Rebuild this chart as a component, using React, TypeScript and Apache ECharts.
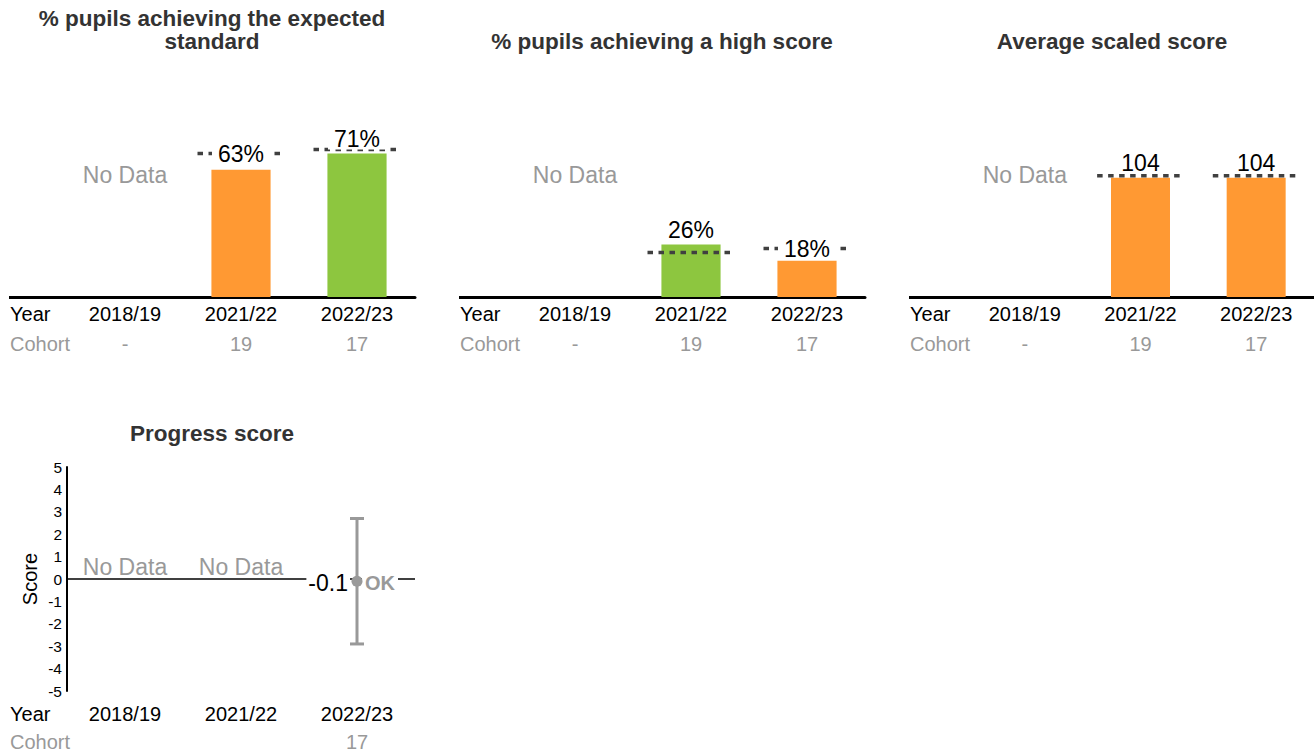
import React, { useEffect, useRef } from 'react';
import * as echarts from 'echarts';

// ---------- data ----------
const years = ['2018/19', '2021/22', '2022/23'];
const cohorts = ['-', '19', '17'];

const expectedTitle = ['% pupils achieving the expected', 'standard'];
const expectedSchool = [null, 63, 71];
const expectedNational = [null, 71, 73];
const expectedBand = ['', 'below', 'above'];

const highTitle = ['% pupils achieving a high score'];
const highSchool = [null, 26, 18];
const highNational = [null, 22, 24];
const highBand = ['', 'above', 'below'];

const scaledTitle = ['Average scaled score'];
const scaledSchool = [null, 103.6, 103.6];
const scaledNational = [null, 104, 104];
const scaledBand = ['', 'below', 'below'];

const progressTitle = 'Progress score';
const progressCohorts = ['', '', '17'];
const progressScore = [null, null, -0.1];
const progressLower = [null, null, -2.9];
const progressUpper = [null, null, 2.7];
const progressBand = ['', '', 'OK'];
const progressTicks = { min: -5, max: 5, interval: 1 };

// ---------- styles ----------
const FONT = '"Liberation Sans", Arial, Helvetica, sans-serif';
const bandColor: Record<string, string> = { above: '#8DC63F', below: '#FF9933' };
const GRAY = '#999999';

const panels = [
  { title: expectedTitle, school: expectedSchool, national: expectedNational, band: expectedBand, min: 0, max: 100, suffix: '%' },
  { title: highTitle, school: highSchool, national: highNational, band: highBand, min: 0, max: 100, suffix: '%' },
  { title: scaledTitle, school: scaledSchool, national: scaledNational, band: scaledBand, min: 80, max: 120, suffix: '' },
];

function buildOption() {
  const grid: any[] = [];
  const xAxis: any[] = [];
  const yAxis: any[] = [];
  const series: any[] = [];
  const graphic: any[] = [];

  panels.forEach((p, k) => {
    const ox = 450 * k;
    grid.push({ left: ox + 67, top: 95, width: 348, height: 202 });
    xAxis.push({
      type: 'category',
      gridIndex: k,
      data: years,
      axisLine: { show: true, onZero: false, lineStyle: { color: '#000', width: 3 } },
      axisTick: { show: false },
      axisLabel: {
        interval: 0,
        margin: 2,
        formatter: (v: string, i: number) => `{y|${v}}\n{c|${cohorts[i]}}`,
        rich: {
          y: { fontSize: 20, color: '#000', lineHeight: 30, fontFamily: FONT },
          c: { fontSize: 20, color: GRAY, lineHeight: 30, fontFamily: FONT },
        },
      },
    });
    yAxis.push({ type: 'value', gridIndex: k, min: p.min, max: p.max, show: false });

    // bars
    series.push({
      type: 'bar',
      xAxisIndex: k,
      yAxisIndex: k,
      barWidth: '51%',
      z: 2,
      data: p.school.map((v, i) =>
        v == null ? '-' : { value: v, itemStyle: { color: bandColor[p.band[i]] } }
      ),
    });

    // national comparison dashed line
    series.push({
      type: 'custom',
      xAxisIndex: k,
      yAxisIndex: k,
      z: 3,
      data: p.national.map((v, i) => [i, v]).filter((d) => d[1] != null),
      renderItem: (params: any, api: any) => {
        const c = api.coord([api.value(0), api.value(1)]);
        const half = api.size([1, 0])[0] * 0.375;
        return {
          type: 'line',
          shape: { x1: c[0] - half, y1: c[1], x2: c[0] + half, y2: c[1] },
          style: { stroke: '#404040', lineWidth: 3.5, lineDash: [5.5, 5.5] },
        };
      },
    });

    // value labels
    series.push({
      type: 'custom',
      xAxisIndex: k,
      yAxisIndex: k,
      z: 4,
      data: p.school.map((v, i) => [i, v, p.national[i]]).filter((d) => d[1] != null),
      renderItem: (params: any, api: any) => {
        const i = api.value(0);
        const s = api.value(1);
        const n = api.value(2);
        const cb = api.coord([i, s]);
        const cn = api.coord([i, n]);
        const cy = cn[1] < cb[1] - 8 ? cn[1] : cb[1] - 14.5;
        return {
          type: 'text',
          x: cb[0],
          y: cy,
          style: {
            text: `${Math.round(s)}${p.suffix}`,
            fontSize: 23,
            fontFamily: FONT,
            fill: '#000',
            align: 'center',
            verticalAlign: 'middle',
            lineHeight: 21,
            backgroundColor: '#fff',
            padding: [0, 6],
          },
        };
      },
    });

    // No Data
    series.push({
      type: 'custom',
      xAxisIndex: k,
      yAxisIndex: k,
      z: 4,
      data: p.school.map((v, i) => (v == null ? [i, p.min] : null)).filter((d) => d != null),
      renderItem: (params: any, api: any) => {
        const c = api.coord([api.value(0), api.value(1)]);
        return {
          type: 'text',
          x: c[0],
          y: params.coordSys.y + 80,
          style: {
            text: 'No Data',
            fontSize: 23,
            fontFamily: FONT,
            fill: GRAY,
            align: 'center',
            verticalAlign: 'middle',
          },
        };
      },
    });

    // titles (one text per line, bottom line aligned across panels)
    const lines = p.title;
    lines.forEach((line, li) => {
      graphic.push({
        type: 'text',
        x: ox + 212,
        y: 41 - (lines.length - 1 - li) * 23,
        style: {
          text: line,
          fontSize: 22.5,
          fontWeight: 'bold',
          fontFamily: FONT,
          fill: '#333',
          align: 'center',
          verticalAlign: 'middle',
          lineHeight: 22,
        },
      });
    });
    graphic.push({
      type: 'line',
      shape: { x1: ox + 9, y1: 297.5, x2: ox + 68, y2: 297.5 },
      style: { stroke: '#000', lineWidth: 3 },
    });
    graphic.push({
      type: 'text', x: ox + 10, y: 314,
      style: { text: 'Year', fontSize: 20, fontFamily: FONT, fill: '#000', align: 'left', verticalAlign: 'middle' },
    });
    graphic.push({
      type: 'text', x: ox + 10, y: 344,
      style: { text: 'Cohort', fontSize: 20, fontFamily: FONT, fill: GRAY, align: 'left', verticalAlign: 'middle' },
    });
  });

  // ---------- progress panel ----------
  const g = 3;
  grid.push({ left: 67, top: 467, width: 348, height: 224 });
  xAxis.push({
    type: 'category',
    gridIndex: g,
    data: years,
    axisLine: { show: false, onZero: false },
    axisTick: { show: false },
    axisLabel: {
      interval: 0,
      margin: 9,
      formatter: (v: string, i: number) => `{y|${v}}\n{c|${progressCohorts[i] || ' '}}`,
      rich: {
        y: { fontSize: 20, color: '#000', lineHeight: 28, fontFamily: FONT },
        c: { fontSize: 20, color: GRAY, lineHeight: 28, fontFamily: FONT },
      },
    },
  });
  yAxis.push({
    type: 'value',
    gridIndex: g,
    min: progressTicks.min,
    max: progressTicks.max,
    interval: progressTicks.interval,
    name: 'Score',
    nameLocation: 'middle',
    nameGap: 27,
    nameTextStyle: { fontSize: 20, color: '#000', fontFamily: FONT },
    axisLine: { show: true, onZero: false, lineStyle: { color: '#000', width: 2 } },
    axisTick: { show: false },
    splitLine: { show: false },
    axisLabel: { fontSize: 15.5, color: '#000', margin: 5, fontFamily: FONT },
  });
  // zero line
  series.push({
    type: 'line',
    xAxisIndex: g,
    yAxisIndex: g,
    data: [],
    z: 1,
    markLine: {
      silent: true,
      symbol: 'none',
      label: { show: false },
      lineStyle: { color: '#000', width: 1.5, type: 'solid' },
      data: [{ yAxis: 0 }],
    },
  });
  // No Data
  series.push({
    type: 'custom',
    xAxisIndex: g,
    yAxisIndex: g,
    z: 4,
    data: progressScore.map((v, i) => (v == null ? [i, 0] : null)).filter((d) => d != null),
    renderItem: (params: any, api: any) => {
      const c = api.coord([api.value(0), api.value(1)]);
      return {
        type: 'text',
        x: c[0],
        y: c[1] - 12,
        style: { text: 'No Data', fontSize: 23, fontFamily: FONT, fill: GRAY, align: 'center', verticalAlign: 'middle' },
      };
    },
  });
  // score with confidence interval
  series.push({
    type: 'custom',
    xAxisIndex: g,
    yAxisIndex: g,
    z: 5,
    data: progressScore
      .map((v, i) => [i, v, progressLower[i], progressUpper[i]])
      .filter((d) => d[1] != null),
    renderItem: (params: any, api: any) => {
      const i = api.value(0);
      const p = api.coord([i, api.value(1)]);
      const lo = api.coord([i, api.value(2)]);
      const hi = api.coord([i, api.value(3)]);
      const stroke = { stroke: GRAY, lineWidth: 3 };
      return {
        type: 'group',
        children: [
          {
            type: 'text', x: p[0] - 7, y: p[1] + 2,
            style: {
              text: Number(api.value(1)).toFixed(1), fontSize: 23, fontFamily: FONT, fill: '#000',
              align: 'right', verticalAlign: 'middle', backgroundColor: '#fff', padding: [0, 2], lineHeight: 22,
            },
          },
          {
            type: 'text', x: p[0] + 5, y: p[1] + 2,
            style: {
              text: progressBand[i], fontSize: 20, fontWeight: 'bold', fontFamily: FONT, fill: GRAY,
              align: 'left', verticalAlign: 'middle', backgroundColor: '#fff', padding: [0, 3], lineHeight: 20,
            },
          },
          { type: 'line', shape: { x1: p[0], y1: hi[1], x2: p[0], y2: lo[1] }, style: stroke },
          { type: 'line', shape: { x1: p[0] - 7, y1: hi[1], x2: p[0] + 7, y2: hi[1] }, style: stroke },
          { type: 'line', shape: { x1: p[0] - 7, y1: lo[1], x2: p[0] + 7, y2: lo[1] }, style: stroke },
          { type: 'circle', shape: { cx: p[0], cy: p[1], r: 5.5 }, style: { fill: GRAY } },
        ],
      };
    },
  });
  graphic.push({
    type: 'text', x: 212, y: 433,
    style: { text: progressTitle, fontSize: 22.5, fontWeight: 'bold', fontFamily: FONT, fill: '#333', align: 'center', verticalAlign: 'middle' },
  });
  graphic.push({
    type: 'text', x: 10, y: 714,
    style: { text: 'Year', fontSize: 20, fontFamily: FONT, fill: '#000', align: 'left', verticalAlign: 'middle' },
  });
  graphic.push({
    type: 'text', x: 10, y: 742,
    style: { text: 'Cohort', fontSize: 20, fontFamily: FONT, fill: GRAY, align: 'left', verticalAlign: 'middle' },
  });

  return {
    animation: false,
    backgroundColor: '#fff',
    textStyle: { fontFamily: FONT },
    grid,
    xAxis,
    yAxis,
    series,
    graphic,
  };
}

export default function App() {
  const ref = useRef<HTMLDivElement>(null);
  useEffect(() => {
    if (!ref.current) return;
    const chart = echarts.init(ref.current, undefined, { renderer: 'svg' });
    chart.setOption(buildOption() as any);
    return () => chart.dispose();
  }, []);
  return (
    <div
      ref={ref}
      style={{ position: 'absolute', left: 0, top: 0, width: 1314, height: 756, background: '#fff' }}
    />
  );
}
